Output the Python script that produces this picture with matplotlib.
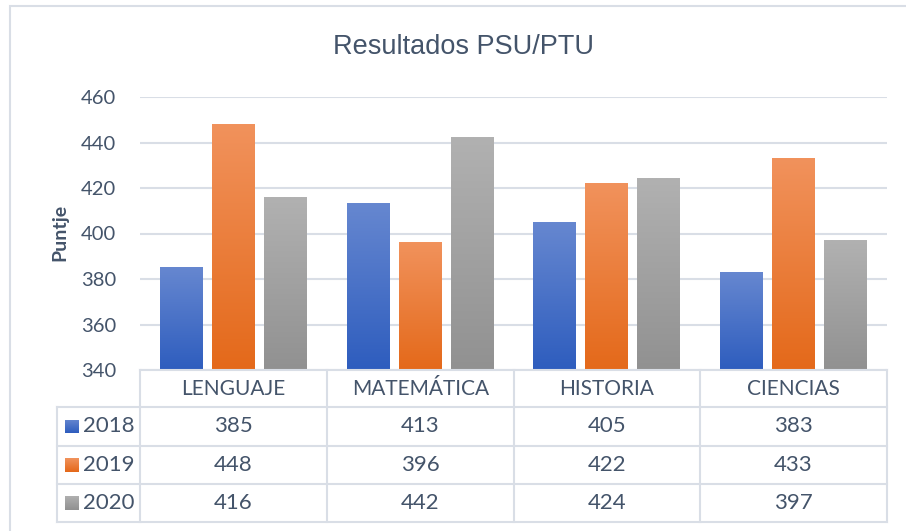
import numpy as np
import matplotlib.pyplot as plt
from matplotlib.patches import Rectangle
from matplotlib.colors import LinearSegmentedColormap
from matplotlib import font_manager

categories = ['LENGUAJE', 'MATEMÁTICA', 'HISTORIA', 'CIENCIAS']
years = ['2018', '2019', '2020']
v2018 = [385, 413, 405, 383]
v2019 = [448, 396, 422, 433]
v2020 = [416, 442, 424, 397]
yticks = [340, 360, 380, 400, 420, 440, 460]

series = [v2018, v2019, v2020]
# (bottom colour, top colour) of each gradient
grads = [('#2E5DBE', '#6687D0'), ('#E4691A', '#F1925C'), ('#919191', '#B1B1B1')]
txt_col = '#44546A'
grid_col = '#D9DEE6'

names = {f.name for f in font_manager.fontManager.ttflist}
narrow = 'Liberation Sans Narrow' if 'Liberation Sans Narrow' in names else 'Liberation Sans'
body = 'Lato'

W, H = 906, 531
fig = plt.figure(figsize=(W / 100, H / 100), dpi=100)


def fx(px):
    return px / W


def fy(py):
    return 1 - py / H


# outer chart border
fig.patches.append(Rectangle((fx(10), fy(H + 5)), 1, fy(6) - fy(H + 5), transform=fig.transFigure,
                             fill=False, edgecolor='#D9DEE6', lw=1.5))

ax = fig.add_axes([fx(140), fy(370), fx(887) - fx(140), fy(97) - fy(370)])
x = np.arange(len(categories))
width = 0.23
offs = [-0.278, 0, 0.278]
for vals, off, (c0, c1) in zip(series, offs, grads):
    cmap = LinearSegmentedColormap.from_list('g', [c0, c1])
    bars = ax.bar(x + off, np.array(vals) - 340, bottom=340, width=width, color=c0, zorder=2)
    for b in bars:
        x0, w = b.get_x(), b.get_width()
        ax.imshow(np.linspace(0, 1, 128).reshape(-1, 1), extent=[x0, x0 + w, 340, 340 + b.get_height()],
                  origin='lower', aspect='auto', cmap=cmap, zorder=3)

ax.set_xlim(-0.5, 3.5)
ax.set_ylim(340, 460)
ax.set_yticks(yticks)
ax.set_xticks([])
ax.yaxis.grid(True, color=grid_col, lw=1.5)
ax.set_axisbelow(True)
for s in ax.spines.values():
    s.set_visible(False)
ax.tick_params(axis='y', length=0, pad=17, labelsize=14.5, labelcolor=txt_col)
for t in ax.get_yticklabels():
    t.set_fontfamily(body)

fig.text(fx(464), fy(47), 'Resultados PSU/PTU', ha='center', va='center', fontsize=19.5,
         color=txt_col, family=narrow)
fig.text(fx(60), fy(232), 'Puntje', rotation=90, ha='center', va='center', fontsize=14,
         fontweight='bold', color=txt_col, family=body)

# data table
col_x = [140, 327, 514, 700, 887]
row_y = [370, 407, 446, 484, 522]
lk = dict(color=grid_col, lw=1.5, transform=fig.transFigure)
fig.add_artist(plt.Line2D([fx(140), fx(887)], [fy(370), fy(370)], **lk))
for yy in row_y[1:]:
    fig.add_artist(plt.Line2D([fx(57), fx(887)], [fy(yy), fy(yy)], **lk))
fig.add_artist(plt.Line2D([fx(57), fx(57)], [fy(407), fy(522)], **lk))
for xx in col_x:
    fig.add_artist(plt.Line2D([fx(xx), fx(xx)], [fy(370), fy(522)], **lk))

for j, cat in enumerate(categories):
    cx = (col_x[j] + col_x[j + 1]) / 2
    fig.text(fx(cx), fy(389), cat, ha='center', va='center', fontsize=15, color=txt_col, family=body)
    for i, vals in enumerate(series):
        cy = (row_y[i + 1] + row_y[i + 2]) / 2
        fig.text(fx(cx), fy(cy), str(vals[j]), ha='center', va='center', fontsize=16,
                 color=txt_col, family=body)

for i, yr in enumerate(years):
    cy = (row_y[i + 1] + row_y[i + 2]) / 2
    cmap = LinearSegmentedColormap.from_list('g', list(grads[i]))
    sq = fig.add_axes([fx(65), fy(cy + 7), fx(14), fy(cy - 7) - fy(cy + 7)])
    sq.imshow(np.linspace(0, 1, 32).reshape(-1, 1), origin='lower', aspect='auto', cmap=cmap)
    sq.axis('off')
    fig.text(fx(83), fy(cy), yr, ha='left', va='center', fontsize=16, color=txt_col, family=body)

fig.savefig('out.png', dpi=100)
